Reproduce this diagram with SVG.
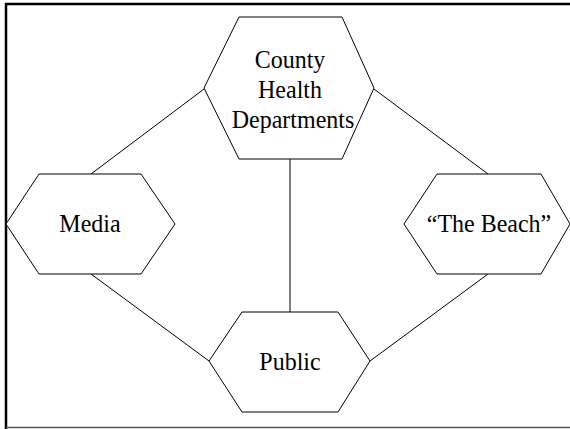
<svg xmlns="http://www.w3.org/2000/svg" width="570" height="429" viewBox="0 0 570 429">
<style>
.hex{fill:#fff;stroke:#000;stroke-width:1}
.lbl{font-family:"Liberation Serif","Times New Roman",serif;font-size:24px;fill:#000;text-anchor:middle}
.conn line{stroke:#000;stroke-width:1}
</style>
<rect x="0" y="0" width="570" height="429" fill="#fff"/>
<g id="frame">
<path d="M6,429 V4 H570" fill="none" stroke="#000" stroke-width="2.5"/>
<line x1="6" y1="427.5" x2="570" y2="427.5" stroke="#555" stroke-width="1.5"/>
</g>
<g class="conn" id="connectors">
<line x1="204" y1="89" x2="91" y2="174"/>
<line x1="374" y1="89" x2="488" y2="174"/>
<line x1="290" y1="159" x2="290" y2="312"/>
<line x1="91" y1="274" x2="209" y2="361"/>
<line x1="488" y1="274" x2="370" y2="361"/>
</g>
<g id="county">
<polygon class="hex" points="239,17 342,17 374,88 342,159 239,159 204,88"/>
<text class="lbl" transform="translate(290,68) scale(1,1.07)">County</text>
<text class="lbl" transform="translate(290,98) scale(1,1.07)">Health</text>
<text class="lbl" transform="translate(293,128) scale(1,1.07)">Departments</text>
</g>
<g id="media">
<polygon class="hex" points="39,174 141,174 175,224 141,274 39,274 6,224"/>
<text class="lbl" transform="translate(90,232) scale(1,1.07)">Media</text>
</g>
<g id="beach">
<polygon class="hex" points="437,174 541,174 570,224 541,274 437,274 404,224"/>
<text class="lbl" transform="translate(489,232) scale(1,1.07)">“The Beach”</text>
</g>
<g id="public">
<polygon class="hex" points="242,312 338,312 370,361 338,412 242,412 209,361"/>
<text class="lbl" transform="translate(290,370) scale(1,1.07)">Public</text>
</g>
</svg>
